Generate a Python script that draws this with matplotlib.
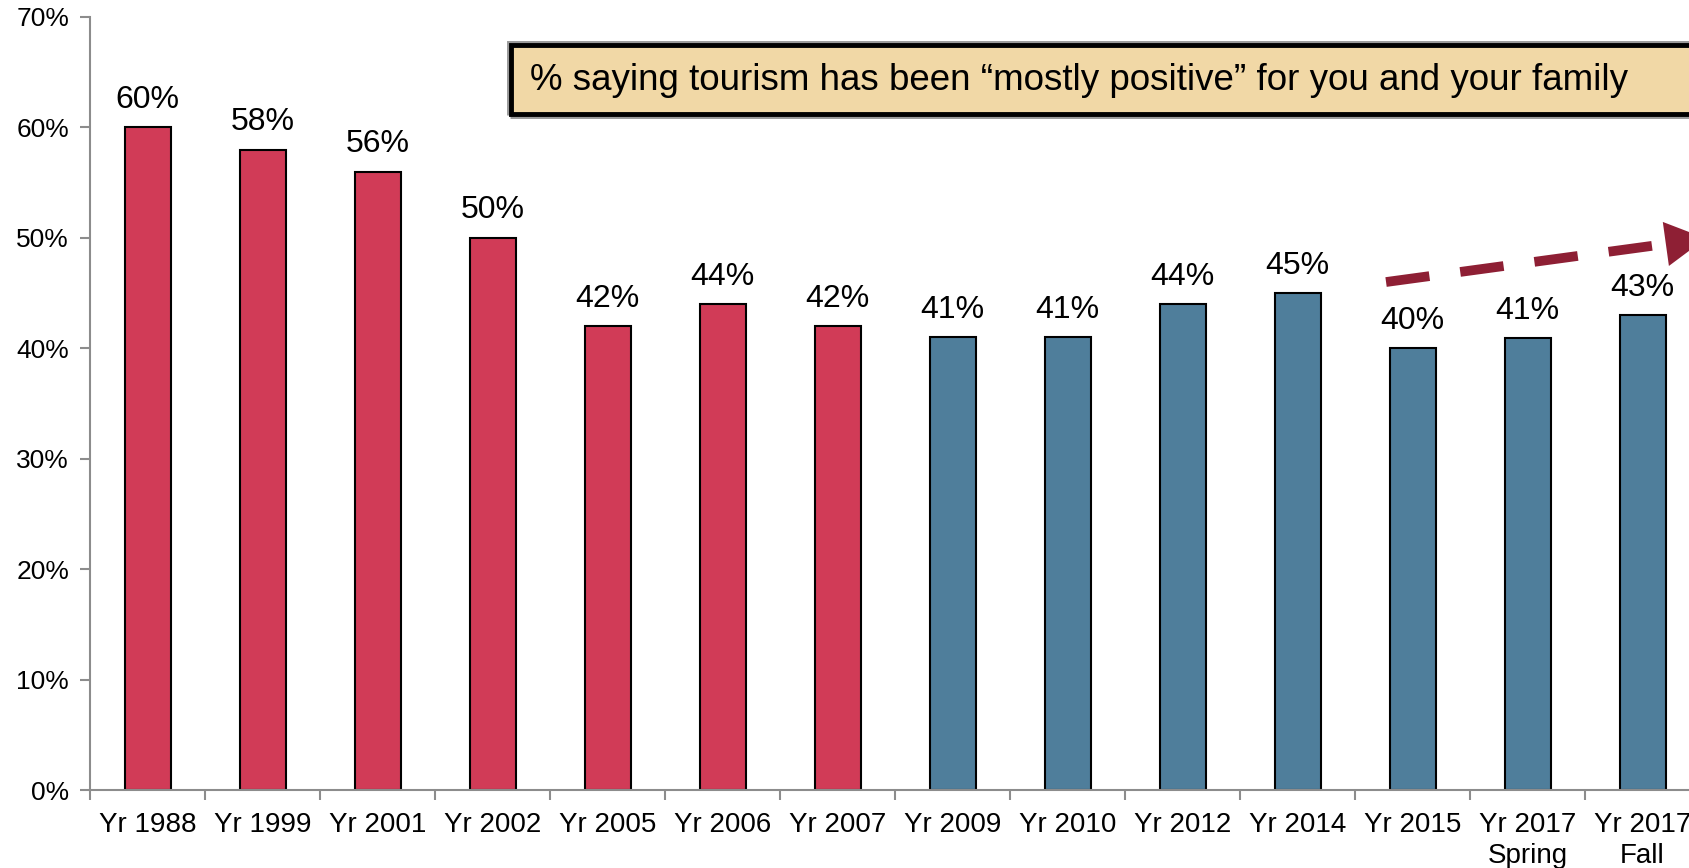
import matplotlib
matplotlib.use("Agg")
import matplotlib.pyplot as plt
from matplotlib.patches import Rectangle

plt.rcParams["font.family"] = ["Liberation Sans", "DejaVu Sans"]

# Data
labels = ["Yr 1988", "Yr 1999", "Yr 2001", "Yr 2002", "Yr 2005", "Yr 2006", "Yr 2007",
          "Yr 2009", "Yr 2010", "Yr 2012", "Yr 2014", "Yr 2015", "Yr 2017\nSpring", "Yr 2017\nFall"]
values = [60, 58, 56, 50, 42, 44, 42, 41, 41, 44, 45, 40, 40.9, 43]
value_text = ["60%", "58%", "56%", "50%", "42%", "44%", "42%", "41%", "41%", "44%", "45%", "40%", "41%", "43%"]
n_red = 7

red = "#D13B57"
blue = "#4F7E9B"
arrow_col = "#8E1F34"
colors = [red] * n_red + [blue] * (len(values) - n_red)

W, H = 1689, 868
fig = plt.figure(figsize=(W / 100, H / 100), dpi=100)
ax = fig.add_axes([90 / W, 78 / H, 1610 / W, 773 / H])

x = list(range(len(values)))
ax.bar(x, values, width=0.4, color=colors, edgecolor="black", linewidth=1.5, zorder=2)

for xi, v, t in zip(x, values, value_text):
    ax.annotate(t, (xi, v), xytext=(0, 9), textcoords="offset points",
                ha="center", va="bottom", fontsize=23, clip_on=False)

ax.set_xlim(-0.5, len(values) - 0.5)
ax.set_ylim(0, 70)
ax.set_yticks(range(0, 71, 10))
ax.set_yticklabels([f"{v}%" for v in range(0, 71, 10)], fontsize=19)
ax.set_xticks(x)
ax.set_xticklabels(labels, fontsize=20, linespacing=1.25)
ax.set_xticks([i - 0.5 for i in range(len(values) + 1)], minor=True)
ax.tick_params(axis="x", which="major", length=0, pad=16)
ax.tick_params(axis="x", which="minor", length=7, color="#8c8c8c", width=1.5, direction="out")
ax.tick_params(axis="y", length=7, color="#8c8c8c", width=1.5, pad=8)

for s in ["top", "right"]:
    ax.spines[s].set_visible(False)
for s in ["left", "bottom"]:
    ax.spines[s].set_color("#8c8c8c")
    ax.spines[s].set_linewidth(1.5)

# dashed trend arrow
ax.plot([10.77, 13.1], [46.0, 49.3], linestyle=(0, (4.5, 3.2)), color=arrow_col,
        linewidth=7, solid_capstyle="butt", dash_capstyle="butt", clip_on=False, zorder=3)
ax.annotate("", xy=(13.55, 49.95), xytext=(13.1, 49.3),
            arrowprops=dict(arrowstyle="-|>,head_length=2.9,head_width=1.6",
                            mutation_scale=10, color=arrow_col, lw=0, shrinkA=0, shrinkB=0),
            annotation_clip=False)

# caption box
fig.patches.append(Rectangle((510 / W, 1 - 115 / H), 1195 / W, 71 / H, transform=fig.transFigure,
                             facecolor="none", edgecolor="#9a9a9a", linewidth=5, zorder=4))
fig.patches.append(Rectangle((511 / W, 1 - 114 / H), 1195 / W, 69 / H, transform=fig.transFigure,
                             facecolor="#F1D8A6", edgecolor="black", linewidth=3.5, zorder=5))
fig.text(530 / W, 1 - 80 / H, "% saying tourism has been \u201cmostly positive\u201d for you and your family",
         fontsize=26.5, va="center", ha="left", zorder=6)

fig.savefig("out.png", dpi=100)
